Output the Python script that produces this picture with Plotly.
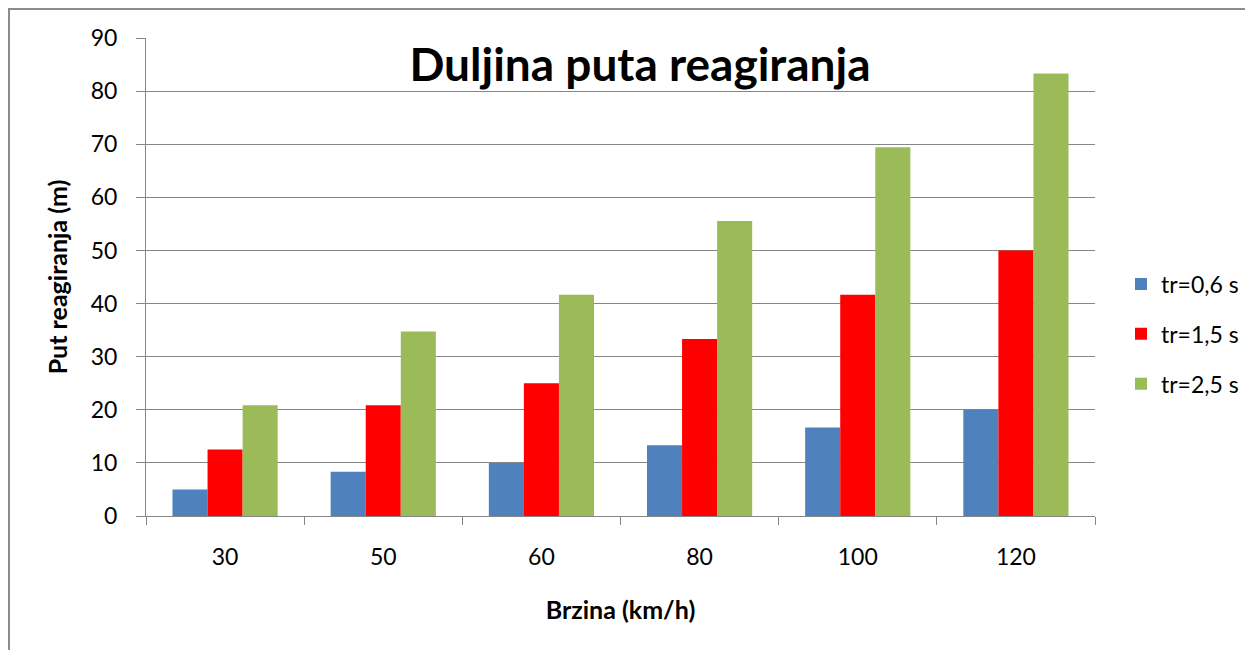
import plotly.graph_objects as go

categories = ["30", "50", "60", "80", "100", "120"]
series_names = ["tr=0,6 s", "tr=1,5 s", "tr=2,5 s"]
tr06 = [5.0, 8.33, 10.0, 13.33, 16.67, 20.0]
tr15 = [12.5, 20.83, 25.0, 33.33, 41.67, 50.0]
tr25 = [20.83, 34.72, 41.67, 55.56, 69.44, 83.33]
colors = ["#4F81BD", "#FF0000", "#9BBB59"]
y_ticks = [0, 10, 20, 30, 40, 50, 60, 70, 80, 90]

W, H = 1253, 650
# figure pixel coords (page has an 8px body margin)
L, R, T, B = 138, 1087, 30, 508
PW, PH = R - L, B - T

fig = go.Figure()
for i, (name, vals) in enumerate(zip(series_names, [tr06, tr15, tr25])):
    fig.add_trace(go.Bar(x=categories, y=vals, name=name, legendgroup=f"g{i}",
                         marker=dict(color=colors[i], line=dict(width=0))))

font = "Lato, 'Open Sans', sans-serif"
grid = "#868686"
fig.update_layout(
    width=W, height=H,
    margin=dict(l=L, r=W - R, t=T, b=H - B, autoexpand=False),
    paper_bgcolor="white", plot_bgcolor="white",
    barmode="group", bargap=0.335, bargroupgap=0,
    font=dict(family=font, size=23, color="black"),
    title=dict(text="<b>Duljina puta reagiranja</b>", x=632 / W, xanchor="center",
               y=1 - 57 / H, yanchor="middle", yref="container",
               font=dict(size=46, family=font, color="black")),
    legend=dict(x=(1113 - L) / PW, xanchor="left", y=(B - 326) / PH, yanchor="middle",
                traceorder="grouped", tracegroupgap=17,
                font=dict(size=23, family=font), itemwidth=30, bgcolor="rgba(0,0,0,0)"),
    showlegend=True,
)
fig.update_xaxes(
    type="category", tickson="boundaries", ticks="outside", ticklen=8, tickcolor=grid,
    showline=True, linecolor=grid, linewidth=1, showgrid=False,
    tickfont=dict(size=23), ticklabelstandoff=20,
    title=dict(text="<b>Brzina (km/h)</b>", font=dict(size=25), standoff=32),
)
fig.update_yaxes(
    range=[0, 90], tickvals=y_ticks, ticks="outside", ticklen=9, tickcolor=grid,
    showline=True, linecolor=grid, linewidth=1, showgrid=True, gridcolor=grid, gridwidth=1,
    zeroline=False, tickfont=dict(size=23), ticklabelstandoff=14,
    title=dict(text="<b>Put reagiranja (m)</b>", font=dict(size=25), standoff=15),
)
# outer chart border along the figure edge
fig.add_shape(type="rect", xref="paper", yref="paper",
              x0=(1 - L) / PW, x1=(W + 5 - L) / PW,
              y0=(B - H - 5) / PH, y1=(B - 1) / PH,
              line=dict(color="#8C8C8C", width=2), fillcolor="rgba(0,0,0,0)", layer="below")

fig.write_html("out.html")
